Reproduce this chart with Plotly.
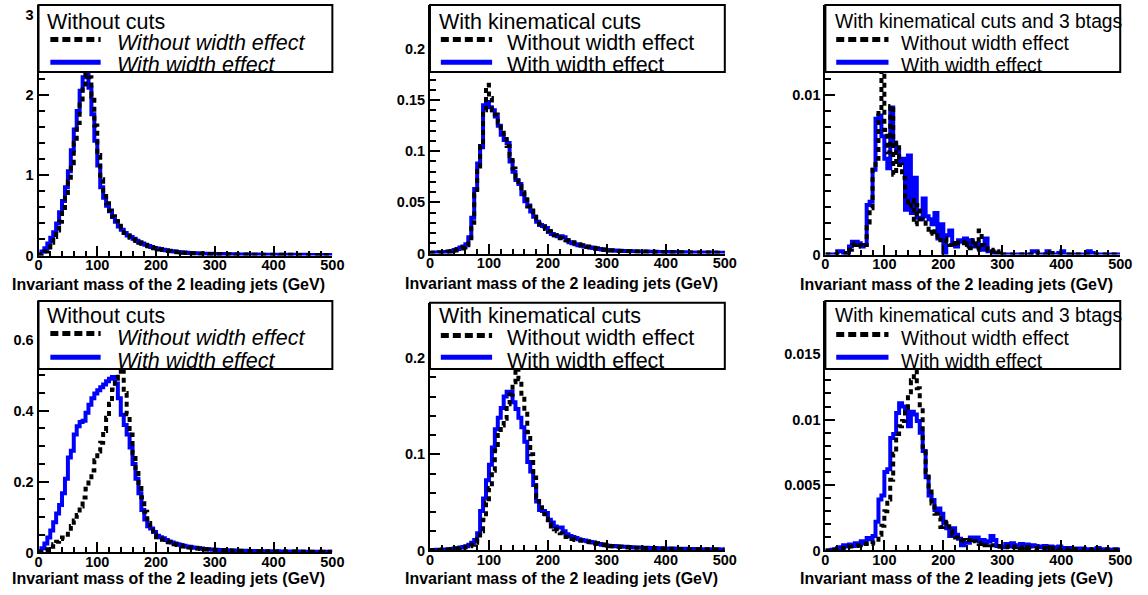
import plotly.graph_objects as go

W, H = 1148, 595

# ---------------- data ----------------
bin_width = 5
x_min, x_max = 0, 500

x_tick_vals = [0, 100, 200, 300, 400, 500]
x_tick_text = ["0", "100", "200", "300", "400", "500"]
x_title = "Invariant mass of the 2 leading jets (GeV)"

panel_titles = [
    "Without cuts", "With kinematical cuts", "With kinematical cuts and 3 btags",
    "Without cuts", "With kinematical cuts", "With kinematical cuts and 3 btags",
]
label_without = "Without width effect"
label_with = "With width effect"

# panel 1 (top-left)
p1_with = [
    0.01, 0.05, 0.09, 0.15, 0.22, 0.29, 0.40, 0.54, 0.68, 0.85,
    1.05, 1.31, 1.57, 1.80, 2.05, 2.22, 2.27, 2.09, 1.76, 1.43,
    1.12, 0.85, 0.72, 0.62, 0.55, 0.48, 0.42, 0.36, 0.32, 0.28,
    0.25, 0.23, 0.21, 0.185, 0.165, 0.15, 0.135, 0.12, 0.105, 0.095,
    0.088, 0.080, 0.072, 0.065, 0.060, 0.054, 0.049, 0.045, 0.040, 0.036,
    0.033, 0.031, 0.029, 0.027, 0.026, 0.024, 0.023, 0.022, 0.021, 0.020,
    0.019, 0.018, 0.018, 0.017, 0.016, 0.016, 0.015, 0.015, 0.014, 0.014,
    0.013, 0.013, 0.013, 0.012, 0.012, 0.012, 0.011, 0.011, 0.011, 0.010,
    0.010, 0.010, 0.010, 0.009, 0.009, 0.009, 0.009, 0.008, 0.008, 0.008,
    0.008, 0.008, 0.007, 0.007, 0.007, 0.007, 0.007, 0.006, 0.006, 0.006,
]
p1_without = [
    0.00, 0.02, 0.05, 0.10, 0.16, 0.23, 0.31, 0.42, 0.56, 0.72,
    0.92, 1.15, 1.40, 1.65, 1.88, 2.10, 2.26, 2.22, 1.98, 1.62,
    1.25, 0.95, 0.77, 0.65, 0.56, 0.49, 0.43, 0.37, 0.32, 0.28,
    0.25, 0.22, 0.20, 0.18, 0.16, 0.145, 0.13, 0.115, 0.10, 0.09,
    0.082, 0.075, 0.068, 0.062, 0.056, 0.051, 0.046, 0.042, 0.038, 0.034,
    0.031, 0.029, 0.027, 0.025, 0.024, 0.022, 0.021, 0.020, 0.019, 0.018,
    0.017, 0.017, 0.016, 0.015, 0.015, 0.014, 0.014, 0.013, 0.013, 0.012,
    0.012, 0.012, 0.011, 0.011, 0.011, 0.010, 0.010, 0.010, 0.009, 0.009,
    0.009, 0.009, 0.008, 0.008, 0.008, 0.008, 0.008, 0.007, 0.007, 0.007,
    0.007, 0.007, 0.006, 0.006, 0.006, 0.006, 0.006, 0.006, 0.005, 0.005,
]

# panel 2 (top-middle)
p2_with = [
    0.0008, 0.0010, 0.0010, 0.0012, 0.0012, 0.0015, 0.0020, 0.0025, 0.0035, 0.0045,
    0.0060, 0.0070, 0.0090, 0.0160, 0.0350, 0.0630, 0.0880, 0.1040, 0.1450, 0.1480,
    0.1430, 0.1400, 0.1340, 0.1250, 0.1160, 0.1110, 0.1080, 0.0900, 0.0800, 0.0720,
    0.0680, 0.0580, 0.0510, 0.0470, 0.0410, 0.0360, 0.0310, 0.0280, 0.0270, 0.0250,
    0.0210, 0.0190, 0.0180, 0.0170, 0.0170, 0.0160, 0.0130, 0.0110, 0.0100, 0.0090,
    0.0080, 0.0075, 0.0070, 0.0065, 0.0060, 0.0055, 0.0050, 0.0045, 0.0040, 0.0035,
    0.0033, 0.0030, 0.0030, 0.0028, 0.0027, 0.0026, 0.0025, 0.0024, 0.0023, 0.0022,
    0.0021, 0.0020, 0.0020, 0.0019, 0.0018, 0.0018, 0.0017, 0.0016, 0.0016, 0.0015,
    0.0015, 0.0014, 0.0014, 0.0013, 0.0013, 0.0012, 0.0012, 0.0012, 0.0011, 0.0011,
    0.0011, 0.0010, 0.0010, 0.0010, 0.0009, 0.0009, 0.0009, 0.0008, 0.0008, 0.0008,
]
p2_without = [
    0.0006, 0.0008, 0.0009, 0.0010, 0.0011, 0.0013, 0.0017, 0.0022, 0.0030, 0.0040,
    0.0050, 0.0060, 0.0080, 0.0130, 0.0300, 0.0580, 0.0850, 0.1050, 0.1400, 0.1650,
    0.1520, 0.1400, 0.1360, 0.1280, 0.1180, 0.1120, 0.1050, 0.0950, 0.0830, 0.0740,
    0.0660, 0.0600, 0.0530, 0.0460, 0.0420, 0.0360, 0.0320, 0.0290, 0.0260, 0.0240,
    0.0220, 0.0200, 0.0180, 0.0160, 0.0150, 0.0140, 0.0130, 0.0120, 0.0110, 0.0100,
    0.0090, 0.0082, 0.0075, 0.0068, 0.0062, 0.0056, 0.0050, 0.0045, 0.0040, 0.0036,
    0.0033, 0.0031, 0.0029, 0.0028, 0.0026, 0.0025, 0.0024, 0.0023, 0.0022, 0.0021,
    0.0020, 0.0020, 0.0019, 0.0018, 0.0018, 0.0017, 0.0016, 0.0016, 0.0015, 0.0015,
    0.0014, 0.0014, 0.0013, 0.0013, 0.0012, 0.0012, 0.0012, 0.0011, 0.0011, 0.0011,
    0.0010, 0.0010, 0.0010, 0.0009, 0.0009, 0.0009, 0.0008, 0.0008, 0.0008, 0.0007,
]

# panel 3 (top-right)
p3_with = [
    0, 0, 0, 0, 0.0002, 0.0002, 0.0001, 0, 0.0005, 0.0008,
    0.0008, 0.0007, 0.0005, 0.0006, 0.0031, 0.0033, 0.0053, 0.0085, 0.0087, 0.0074,
    0.0060, 0.0054, 0.0092, 0.0070, 0.0065, 0.0058, 0.0060, 0.0028, 0.0062, 0.0026,
    0.0048, 0.0023, 0.0022, 0.0035, 0.0024, 0.0022, 0.0019, 0.0026, 0.0010, 0.0019,
    0.0000, 0.0012, 0.0015, 0.0006, 0.0005, 0.0009, 0.0008, 0.0010, 0.0006, 0.0009,
    0.0005, 0.0007, 0.0004, 0.0003, 0.0010, 0.0002, 0.0002, 0.0001, 0, 0,
    0, 0, 0, 0, 0, 0, 0, 0, 0, 0,
    0.0002, 0.0002, 0, 0, 0, 0.0002, 0.0001, 0, 0, 0.0001,
    0.0002, 0, 0, 0, 0, 0, 0, 0, 0, 0.0002,
    0.0001, 0, 0, 0, 0, 0, 0, 0, 0, 0,
]
p3_without = [
    0, 0, 0, 0, 0, 0, 0, 0.0001, 0.0003, 0.0006,
    0.0007, 0.0006, 0.0005, 0.0006, 0.0020, 0.0029, 0.0053, 0.0060, 0.0090, 0.0115,
    0.0078, 0.0064, 0.0093, 0.0050, 0.0070, 0.0056, 0.0048, 0.0035, 0.0030, 0.0034,
    0.0019, 0.0031, 0.0022, 0.0020, 0.0018, 0.0013, 0.0016, 0.0011, 0.0012, 0.0009,
    0.0010, 0.0008, 0.0006, 0.0005, 0.0009, 0.0007, 0.0008, 0.0005, 0.0007, 0.0004,
    0.0009, 0.0003, 0.0015, 0.0006, 0.0004, 0.0003, 0.0002, 0.0003, 0.00015, 0.0002,
    0, 0, 0, 0, 0, 0, 0, 0, 0, 0,
    0, 0.0001, 0, 0, 0, 0, 0.0001, 0, 0, 0,
    0, 0, 0, 0, 0, 0, 0, 0, 0, 0,
    0, 0, 0, 0, 0, 0, 0, 0, 0, 0,
]

# panel 4 (bottom-left)
p4_with = [
    0.004, 0.012, 0.025, 0.042, 0.062, 0.085, 0.110, 0.134, 0.167, 0.208,
    0.268, 0.287, 0.333, 0.356, 0.368, 0.372, 0.394, 0.417, 0.435, 0.449,
    0.458, 0.466, 0.474, 0.483, 0.490, 0.495, 0.477, 0.435, 0.389, 0.360,
    0.333, 0.296, 0.250, 0.208, 0.167, 0.120, 0.093, 0.074, 0.068, 0.058,
    0.047, 0.043, 0.040, 0.035, 0.031, 0.028, 0.025, 0.023, 0.021, 0.019,
    0.017, 0.016, 0.014, 0.013, 0.012, 0.011, 0.010, 0.009, 0.0085, 0.008,
    0.0075, 0.0070, 0.0068, 0.0065, 0.0060, 0.0058, 0.0055, 0.0052, 0.0050, 0.0048,
    0.0046, 0.0044, 0.0042, 0.0040, 0.0039, 0.0038, 0.0036, 0.0035, 0.0034, 0.0033,
    0.0032, 0.0031, 0.0030, 0.0029, 0.0028, 0.0027, 0.0026, 0.0025, 0.0025, 0.0024,
    0.0023, 0.0023, 0.0022, 0.0021, 0.0021, 0.0020, 0.0020, 0.0019, 0.0019, 0.0018,
]
p4_without = [
    0.000, 0.002, 0.005, 0.009, 0.016, 0.023, 0.030, 0.038, 0.042, 0.050,
    0.060, 0.075, 0.090, 0.106, 0.130, 0.155, 0.180, 0.204, 0.231, 0.260,
    0.285, 0.310, 0.343, 0.380, 0.420, 0.460, 0.490, 0.510, 0.520, 0.450,
    0.390, 0.333, 0.280, 0.230, 0.190, 0.155, 0.115, 0.083, 0.062, 0.050,
    0.043, 0.039, 0.036, 0.032, 0.029, 0.026, 0.023, 0.021, 0.019, 0.017,
    0.016, 0.014, 0.013, 0.012, 0.011, 0.010, 0.009, 0.0085, 0.008, 0.0075,
    0.0071, 0.0067, 0.0064, 0.0061, 0.0057, 0.0055, 0.0052, 0.0049, 0.0047, 0.0045,
    0.0044, 0.0042, 0.0040, 0.0038, 0.0037, 0.0036, 0.0034, 0.0033, 0.0032, 0.0031,
    0.0030, 0.0029, 0.0028, 0.0027, 0.0027, 0.0026, 0.0025, 0.0024, 0.0024, 0.0023,
    0.0022, 0.0022, 0.0021, 0.0020, 0.0020, 0.0019, 0.0019, 0.0018, 0.0018, 0.0017,
]

# panel 5 (bottom-middle)
p5_with = [
    0.0003, 0.0005, 0.0007, 0.0008, 0.0010, 0.0010, 0.0013, 0.0016, 0.0020, 0.0024,
    0.0030, 0.0036, 0.0045, 0.0060, 0.0080, 0.0110, 0.0180, 0.0410, 0.0540, 0.0730,
    0.0890, 0.1070, 0.1260, 0.1380, 0.1480, 0.1600, 0.1650, 0.1650, 0.1540, 0.1470,
    0.1380, 0.1280, 0.1130, 0.0920, 0.0820, 0.0680, 0.0510, 0.0420, 0.0410, 0.0390,
    0.0320, 0.0290, 0.0250, 0.0240, 0.0240, 0.0200, 0.0170, 0.0150, 0.0140, 0.0130,
    0.0118, 0.0110, 0.0105, 0.0095, 0.0088, 0.0082, 0.0075, 0.0068, 0.0060, 0.0055,
    0.0050, 0.0048, 0.0046, 0.0044, 0.0042, 0.0040, 0.0038, 0.0036, 0.0034, 0.0032,
    0.0031, 0.0030, 0.0029, 0.0028, 0.0027, 0.0026, 0.0025, 0.0024, 0.0023, 0.0022,
    0.0021, 0.0020, 0.0020, 0.0019, 0.0018, 0.0018, 0.0017, 0.0016, 0.0016, 0.0015,
    0.0015, 0.0014, 0.0014, 0.0013, 0.0013, 0.0012, 0.0012, 0.0012, 0.0011, 0.0011,
]
p5_without = [
    0.0002, 0.0004, 0.0005, 0.0006, 0.0008, 0.0009, 0.0010, 0.0013, 0.0016, 0.0020,
    0.0025, 0.0030, 0.0038, 0.0045, 0.0060, 0.0080, 0.0120, 0.0200, 0.0320, 0.0500,
    0.0650, 0.0830, 0.1040, 0.1200, 0.1300, 0.1370, 0.1520, 0.1620, 0.1750, 0.1900,
    0.1780, 0.1630, 0.1450, 0.1230, 0.1000, 0.0760, 0.0550, 0.0450, 0.0380, 0.0330,
    0.0280, 0.0250, 0.0220, 0.0200, 0.0180, 0.0160, 0.0140, 0.0130, 0.0120, 0.0110,
    0.0105, 0.0100, 0.0095, 0.0090, 0.0085, 0.0080, 0.0074, 0.0068, 0.0062, 0.0056,
    0.0046, 0.0044, 0.0042, 0.0040, 0.0038, 0.0036, 0.0034, 0.0032, 0.0031, 0.0029,
    0.0028, 0.0027, 0.0026, 0.0025, 0.0024, 0.0023, 0.0023, 0.0022, 0.0021, 0.0020,
    0.0019, 0.0018, 0.0018, 0.0017, 0.0016, 0.0016, 0.0015, 0.0014, 0.0014, 0.0014,
    0.0013, 0.0013, 0.0012, 0.0012, 0.0011, 0.0011, 0.0011, 0.0010, 0.0010, 0.0010,
]

# panel 6 (bottom-right)
p6_with = [
    0, 0, 0.00005, 0.0001, 0.0002, 0.00025, 0.0004, 0.0003, 0.00045, 0.00035,
    0.00055, 0.00045, 0.0007, 0.00055, 0.00095, 0.00085, 0.0011, 0.0022, 0.0039, 0.0042,
    0.0060, 0.0062, 0.0086, 0.0089, 0.0105, 0.01125, 0.0110, 0.01075, 0.0095, 0.0106,
    0.0104, 0.0099, 0.0090, 0.0076, 0.0056, 0.0042, 0.00385, 0.0031, 0.0032, 0.0028,
    0.0021, 0.0017, 0.0011, 0.0017, 0.0012, 0.0009, 0.0004, 0.0006, 0.0006, 0.0010,
    0.0009, 0.0010, 0.0007, 0.0008, 0.0006, 0.0007, 0.0011, 0.0008, 0.00035, 0.0003,
    0.00025, 0.0005, 0.0003, 0.00055, 0.0004, 0.00035, 0.0005, 0.0003, 0.00045, 0.0003,
    0.0004, 0.00035, 0.0003, 0.00025, 0.00035, 0.0002, 0.0003, 0.00025, 0.0002, 0.0003,
    0.0002, 0.00015, 0.0002, 0.00015, 0.0001, 0.00015, 0.0001, 0.00015, 0.0001, 0.0001,
    0.00005, 0.0001, 0.0002, 0.0001, 0.00005, 0.0001, 0.00005, 0.00005, 0.0001, 0.00005,
]
p6_without = [
    0, 0, 0, 0.00005, 0.0001, 0.00015, 0.0002, 0.00025, 0.0003, 0.0003,
    0.00035, 0.0004, 0.00045, 0.0005, 0.00055, 0.0005, 0.0006, 0.0006, 0.0012, 0.0019,
    0.0030, 0.0039, 0.0054, 0.0074, 0.0089, 0.0095, 0.0099, 0.0109, 0.0119, 0.0130,
    0.0137, 0.0124, 0.0109, 0.0079, 0.0060, 0.0045, 0.0036, 0.0028, 0.0025, 0.0018,
    0.0019, 0.0022, 0.0015, 0.0012, 0.0010, 0.0009, 0.0008, 0.0007, 0.0008, 0.0006,
    0.0007, 0.0006, 0.0005, 0.0006, 0.0004, 0.0005, 0.0004, 0.0004, 0.0003, 0.00035,
    0.0003, 0.0003, 0.00025, 0.0003, 0.00025, 0.0003, 0.0002, 0.00025, 0.0002, 0.00025,
    0.0002, 0.0002, 0.00015, 0.0002, 0.0002, 0.00015, 0.00015, 0.0002, 0.00015, 0.0001,
    0.00015, 0.0001, 0.0001, 0.00015, 0.0001, 0.0001, 0.0001, 0.00005, 0.0001, 0.0001,
    0.00005, 0.0001, 0.00005, 0.00005, 0.0001, 0.00005, 0.00005, 0.00005, 0.00005, 0.00005,
]

# y-axis ticks for each panel
y1_tick_vals = [0, 1, 2, 3]
y1_tick_text = ["0", "1", "2", "3"]
y2_tick_vals = [0, 0.05, 0.1, 0.15, 0.2]
y2_tick_text = ["0", "0.05", "0.1", "0.15", "0.2"]
y3_tick_vals = [0, 0.01]
y3_tick_text = ["0", "0.01"]
y4_tick_vals = [0, 0.2, 0.4, 0.6]
y4_tick_text = ["0", "0.2", "0.4", "0.6"]
y5_tick_vals = [0, 0.1, 0.2]
y5_tick_text = ["0", "0.1", "0.2"]
y6_tick_vals = [0, 0.005, 0.01, 0.015]
y6_tick_text = ["0", "0.005", "0.01", "0.015"]

# ---------------- layout geometry (pixels) ----------------
panels = [
    dict(w=p1_with, wo=p1_without, x0=35, x1=333, yt=5, yb=259, ymax=3.12, minor=0.2,
         tv=y1_tick_vals, tt=y1_tick_text, leg_b=73, fs=21.5, italic=True, samp=(47, 98), txt_x=113,
         title_x=42, rows=(22, 44, 66), samp_y=(40, 63), xt_y=288),
    dict(w=p2_with, wo=p2_without, x0=432, x1=731, yt=5, yb=257, ymax=0.243, minor=0.01,
         tv=y2_tick_vals, tt=y2_tick_text, leg_b=73, fs=21.5, italic=False, samp=(443, 495), txt_x=508,
         title_x=439, rows=(22, 44, 66), samp_y=(40, 63), xt_y=287),
    dict(w=p3_with, wo=p3_without, x0=833, x1=1132, yt=5, yb=258, ymax=0.01562, minor=0.001,
         tv=y3_tick_vals, tt=y3_tick_text, leg_b=73, fs=19.3, italic=False, samp=(844, 897), txt_x=908,
         title_x=841, rows=(22, 44, 66), samp_y=(40, 63), xt_y=288),
    dict(w=p4_with, wo=p4_without, x0=35, x1=333, yt=305, yb=560, ymax=0.710, minor=0.05,
         tv=y4_tick_vals, tt=y4_tick_text, leg_b=374, fs=21.5, italic=True, samp=(47, 98), txt_x=113,
         title_x=42, rows=(320, 343, 366), samp_y=(338, 362), xt_y=586),
    dict(w=p5_with, wo=p5_without, x0=432, x1=731, yt=307, yb=558, ymax=0.2574, minor=0.02,
         tv=y5_tick_vals, tt=y5_tick_text, leg_b=374, fs=21.5, italic=False, samp=(443, 495), txt_x=508,
         title_x=439, rows=(320, 343, 366), samp_y=(340, 362), xt_y=586),
    dict(w=p6_with, wo=p6_without, x0=833, x1=1132, yt=305, yb=558, ymax=0.01907, minor=0.001,
         tv=y6_tick_vals, tt=y6_tick_text, leg_b=374, fs=19.3, italic=False, samp=(844, 897), txt_x=908,
         title_x=841, rows=(320, 343, 366), samp_y=(339, 362), xt_y=586),
]


def fx(px):
    return px / W


def fy(py):
    return 1 - py / H


FONT = "Liberation Sans, Arial, Helvetica, sans-serif"
BLUE = "#0000ff"

fig = go.Figure()
layout = dict(
    width=W, height=H, autosize=False,
    margin=dict(l=0, r=0, t=0, b=0, pad=0),
    paper_bgcolor="white", plot_bgcolor="white",
    showlegend=False,
    font=dict(family=FONT, color="black"),
)
shapes = []
annotations = []

n_bins = len(p1_with)
edges = [x_min + k * bin_width for k in range(n_bins)] + [x_max]

for i, p in enumerate(panels, start=1):
    xa = "x" if i == 1 else f"x{i}"
    ya = "y" if i == 1 else f"y{i}"
    xkey = "xaxis" if i == 1 else f"xaxis{i}"
    ykey = "yaxis" if i == 1 else f"yaxis{i}"

    fig.add_trace(go.Scatter(
        x=edges, y=p["w"] + [p["w"][-1]], mode="lines", line_shape="hv",
        line=dict(color=BLUE, width=4), xaxis=xa, yaxis=ya, hoverinfo="skip"))
    fig.add_trace(go.Scatter(
        x=edges, y=p["wo"] + [p["wo"][-1]], mode="lines", line_shape="hv",
        line=dict(color="black", width=4, dash="5px,4px"), xaxis=xa, yaxis=ya, hoverinfo="skip"))

    layout[xkey] = dict(
        domain=[fx(p["x0"]), fx(p["x1"])], anchor=ya, range=[x_min, x_max],
        tickmode="array", tickvals=x_tick_vals, ticktext=x_tick_text,
        ticks="inside", ticklen=10, tickwidth=2, tickcolor="black",
        minor=dict(ticks="inside", ticklen=5, tickwidth=2, dtick=20, tick0=0, tickcolor="black"),
        showline=True, linewidth=2, linecolor="black", mirror=False,
        showgrid=False, zeroline=False, ticklabelstandoff=-5,
        tickfont=dict(family=FONT, size=14.5, color="black", weight="bold"),
    )
    layout[ykey] = dict(
        domain=[fy(p["yb"]), fy(p["yt"])], anchor=xa, range=[0, p["ymax"]],
        tickmode="array", tickvals=p["tv"], ticktext=p["tt"],
        ticks="inside", ticklen=10, tickwidth=2, tickcolor="black",
        minor=dict(ticks="inside", ticklen=6, tickwidth=2, dtick=p["minor"], tick0=0, tickcolor="black"),
        showline=True, linewidth=2, linecolor="black", mirror=False,
        showgrid=False, zeroline=False,
        tickfont=dict(family=FONT, size=14.5, color="black", weight="bold"),
    )

    # legend box (white, covers the histogram top)
    shapes.append(dict(type="rect", xref="paper", yref="paper", layer="above",
                       x0=fx(p["x0"]), x1=fx(p["x1"]), y0=fy(p["leg_b"]), y1=fy(p["yt"]),
                       fillcolor="white", line=dict(color="black", width=2)))
    s0, s1 = p["samp"]
    shapes.append(dict(type="line", xref="paper", yref="paper", layer="above",
                       x0=fx(s0), x1=fx(s1), y0=fy(p["samp_y"][0]), y1=fy(p["samp_y"][0]),
                       line=dict(color="black", width=5, dash="8px,4px")))
    shapes.append(dict(type="line", xref="paper", yref="paper", layer="above",
                       x0=fx(s0), x1=fx(s1), y0=fy(p["samp_y"][1]), y1=fy(p["samp_y"][1]),
                       line=dict(color=BLUE, width=5)))

    lf = dict(family=FONT, size=p["fs"], color="black")
    t_wo = f"<i>{label_without}</i>" if p["italic"] else label_without
    t_w = f"<i>{label_with}</i>" if p["italic"] else label_with
    annotations.append(dict(text=panel_titles[i - 1], xref="paper", yref="paper",
                            x=fx(p["title_x"]), y=fy(p["rows"][0]), xanchor="left", yanchor="middle",
                            showarrow=False, font=lf))
    annotations.append(dict(text=t_wo, xref="paper", yref="paper",
                            x=fx(p["txt_x"]), y=fy(p["rows"][1]), xanchor="left", yanchor="middle",
                            showarrow=False, font=lf))
    annotations.append(dict(text=t_w, xref="paper", yref="paper",
                            x=fx(p["txt_x"]), y=fy(p["rows"][2]), xanchor="left", yanchor="middle",
                            showarrow=False, font=lf))
    # x axis title (ROOT style: right aligned)
    annotations.append(dict(text=f"<b>{x_title}</b>", xref="paper", yref="paper",
                            x=fx(p["x1"] - 5), y=fy(p["xt_y"]), xanchor="right", yanchor="middle",
                            showarrow=False, font=dict(family=FONT, size=16, color="black")))

layout["shapes"] = shapes
layout["annotations"] = annotations
fig.update_layout(**layout)
fig.write_html("out.html")
